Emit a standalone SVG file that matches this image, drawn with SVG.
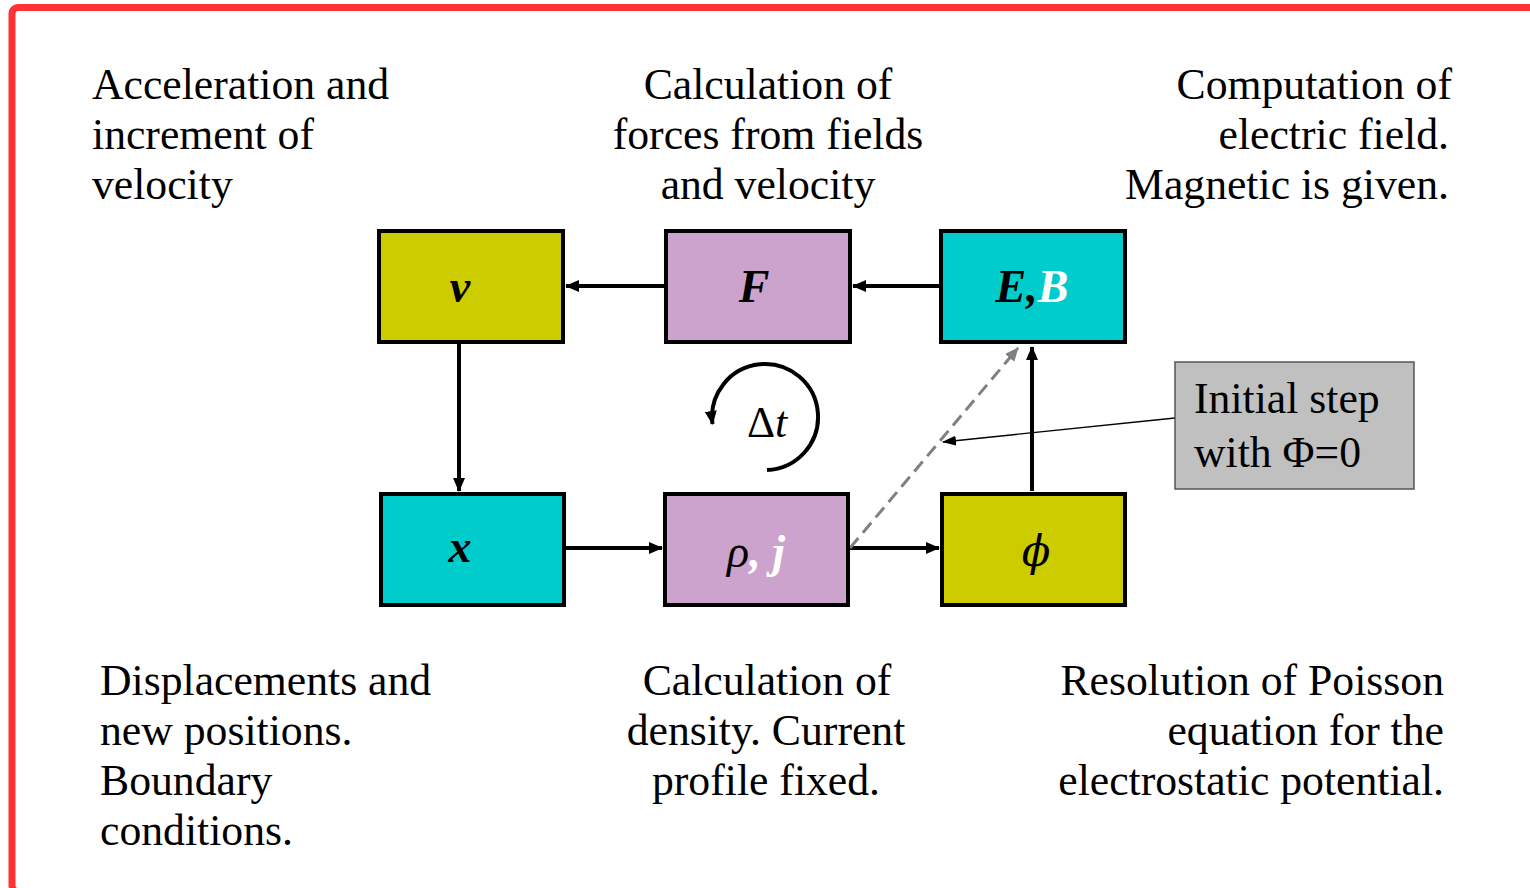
<svg xmlns="http://www.w3.org/2000/svg" width="1530" height="888" viewBox="0 0 1530 888">
<defs>
<marker id="ah" markerUnits="userSpaceOnUse" markerWidth="14" markerHeight="12" refX="13" refY="6" orient="auto"><path d="M0,0 L14,6 L0,12 Z" fill="#000"/></marker>
<marker id="ahs" markerUnits="userSpaceOnUse" markerWidth="14" markerHeight="10" refX="13" refY="5" orient="auto"><path d="M0,0 L14,5 L0,10 Z" fill="#000"/></marker>
<marker id="ahg" markerUnits="userSpaceOnUse" markerWidth="14" markerHeight="12" refX="13" refY="6" orient="auto"><path d="M0,0 L14,6 L0,12 Z" fill="#808080"/></marker>
</defs>
<style>
.lbl{font-family:"Liberation Serif","Times New Roman",serif;font-size:43.7px;fill:#000}
.box{stroke:#000;stroke-width:4}
.ol{fill:#CCCC00}.pk{fill:#CCA3CC}.cy{fill:#00CCCC}
.sym{font-family:"Liberation Serif","Times New Roman",serif;font-size:46px;font-style:italic;font-weight:bold;text-anchor:middle}
.con{stroke:#000;stroke-width:4;fill:none}
</style>
<rect x="12" y="7.5" width="1560" height="884" rx="6" fill="none" stroke="#FF3333" stroke-width="7"/>

<g id="labels">
<text class="lbl" x="92" y="99">Acceleration and</text>
<text class="lbl" x="92" y="149">increment of</text>
<text class="lbl" x="92" y="199">velocity</text>
<text class="lbl" x="768" y="99" text-anchor="middle">Calculation of</text>
<text class="lbl" x="768" y="149" text-anchor="middle">forces from fields</text>
<text class="lbl" x="768" y="199" text-anchor="middle">and velocity</text>
<text class="lbl" x="1452" y="99" text-anchor="end">Computation of</text>
<text class="lbl" x="1449" y="149" text-anchor="end">electric field.</text>
<text class="lbl" x="1449" y="199" text-anchor="end">Magnetic is given.</text>
<text class="lbl" x="100" y="695">Displacements and</text>
<text class="lbl" x="100" y="745">new positions.</text>
<text class="lbl" x="100" y="795">Boundary</text>
<text class="lbl" x="100" y="845">conditions.</text>
<text class="lbl" x="767" y="695" text-anchor="middle">Calculation of</text>
<text class="lbl" x="766" y="745" text-anchor="middle">density. Current</text>
<text class="lbl" x="766" y="795" text-anchor="middle">profile fixed.</text>
<text class="lbl" x="1444" y="695" text-anchor="end">Resolution of Poisson</text>
<text class="lbl" x="1444" y="745" text-anchor="end">equation for the</text>
<text class="lbl" x="1444" y="795" text-anchor="end">electrostatic potential.</text>
</g>

<g id="connectors">
<line class="con" x1="665" y1="286" x2="566" y2="286" marker-end="url(#ah)"/>
<line class="con" x1="940" y1="286" x2="853" y2="286" marker-end="url(#ah)"/>
<line class="con" x1="459" y1="344" x2="459" y2="491" marker-end="url(#ah)"/>
<line class="con" x1="566" y1="548" x2="662" y2="548" stroke-width="5.5" marker-end="url(#ah)"/>
<line class="con" x1="850" y1="548" x2="939" y2="548" stroke-width="5.5" marker-end="url(#ah)"/>
<line class="con" x1="1032" y1="491" x2="1032" y2="347" marker-end="url(#ah)"/>
<line x1="850" y1="548" x2="1018" y2="348" stroke="#808080" stroke-width="3" stroke-dasharray="13,7" marker-end="url(#ahg)"/>
<line x1="1175" y1="418" x2="943" y2="442" stroke="#000" stroke-width="1.3" marker-end="url(#ahs)"/>
<path class="con" stroke-width="3.5" d="M767 470 A53 53 0 1 0 712.5 424" marker-end="url(#ah)"/>
</g>

<g id="node-v"><rect class="box ol" x="379" y="231" width="184" height="111"/><text class="sym" x="460" y="302">v</text></g>
<g id="node-F"><rect class="box pk" x="666" y="231" width="184" height="111"/><text class="sym" x="754" y="302">F</text></g>
<g id="node-EB"><rect class="box cy" x="941" y="231" width="184" height="111"/><text class="sym" x="1032" y="302"><tspan fill="#000">E,</tspan><tspan fill="#fff">B</tspan></text></g>
<g id="node-x"><rect class="box cy" x="381" y="494" width="183" height="111"/><text class="sym" x="460" y="562">x</text></g>
<g id="node-rho"><rect class="box pk" x="665" y="494" width="183" height="111"/><text class="sym" x="756" y="567"><tspan fill="#000" font-weight="normal">ρ</tspan><tspan fill="#fff">, j</tspan></text></g>
<g id="node-phi"><rect class="box ol" x="942" y="494" width="183" height="111"/><text x="1036" y="566" font-family="DejaVu Serif, serif" font-style="italic" font-size="42" text-anchor="middle">ϕ</text></g>
<g id="node-init"><rect x="1175" y="362" width="239" height="127" fill="#C0C0C0" stroke="#555" stroke-width="1.5"/>
<text class="lbl" x="1194" y="413">Initial step</text>
<text class="lbl" x="1194" y="467">with Φ=0</text></g>
<g id="node-dt"><text class="lbl" x="767" y="437" font-size="50" text-anchor="middle">Δ<tspan font-style="italic">t</tspan></text></g>
</svg>
